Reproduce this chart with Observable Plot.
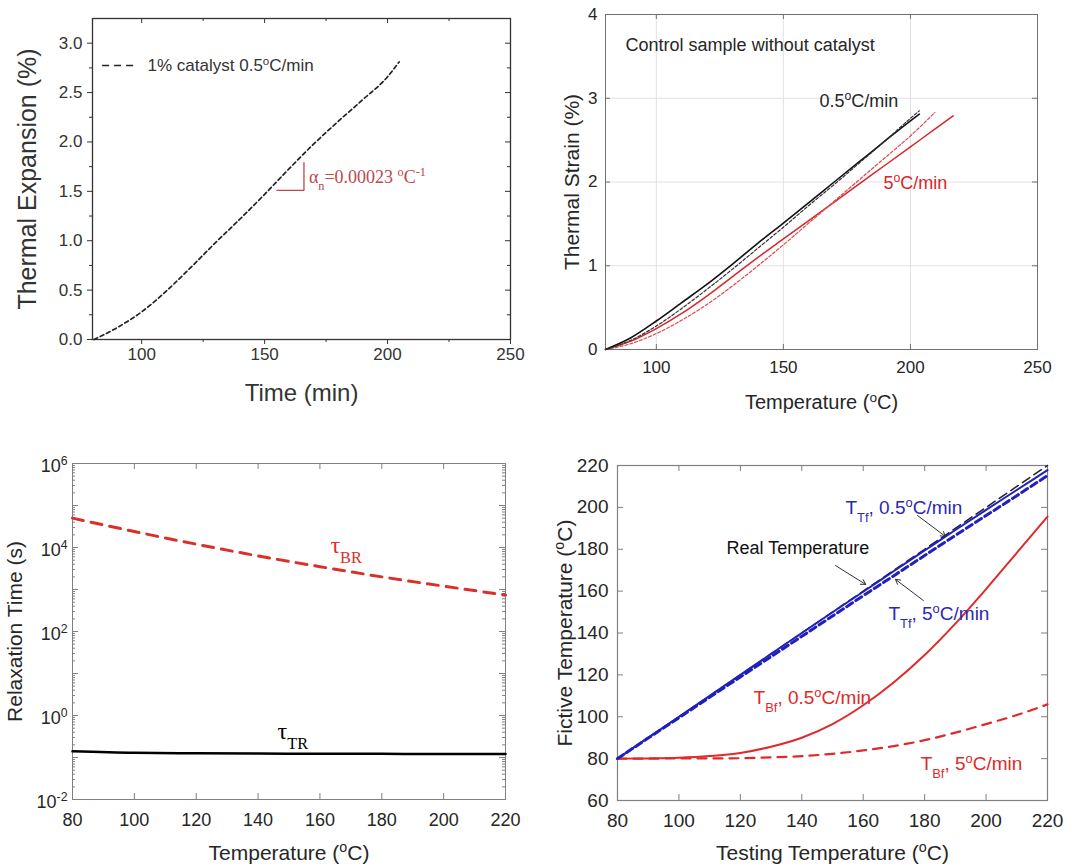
<!DOCTYPE html>
<html><head><meta charset="utf-8">
<script src="https://cdn.jsdelivr.net/npm/d3@7"></script>
<script src="https://cdn.jsdelivr.net/npm/@observablehq/plot@0.6"></script>
<style>
body{margin:0;background:#fff;}
#wrap{position:relative;width:1083px;height:866px;overflow:hidden;background:#fff;}
#wrap svg{position:absolute;}
</style></head><body><div id="wrap"></div>
<script>
// ---------- Panel A: thermal expansion, 1% catalyst ----------
const aTime      = [80.6, 90, 100, 110, 120, 130, 140, 150, 160, 170, 180, 190, 200, 204.7];
const aExpansion = [0, 0.12, 0.28, 0.49, 0.73, 0.98, 1.22, 1.47, 1.73, 1.98, 2.21, 2.43, 2.66, 2.81];
const aXTicks = [100, 150, 200, 250];
const aXMinor = [125, 175, 225];
const aYTicks = [0, 0.5, 1, 1.5, 2, 2.5, 3];
const aYMinor = [0.25, 0.75, 1.25, 1.75, 2.25, 2.75];

// ---------- Panel B: control sample thermal strain ----------
const bTempBlack  = [80, 90, 100, 110, 120, 130, 140, 150, 160, 170, 180, 190, 200, 203.5];
const bBlackSolid = [0, 0.14, 0.34, 0.56, 0.78, 1.02, 1.27, 1.51, 1.755, 2.00, 2.245, 2.49, 2.73, 2.81];
const bBlackDash  = [0, 0.11, 0.28, 0.49, 0.72, 0.96, 1.21, 1.46, 1.72, 1.97, 2.23, 2.49, 2.76, 2.85];
const bTempRedDash = [80, 90, 100, 110, 120, 130, 140, 150, 160, 170, 180, 190, 200, 209.6];
const bRedDash     = [0, 0.07, 0.19, 0.35, 0.54, 0.76, 1.00, 1.25, 1.51, 1.77, 2.03, 2.29, 2.55, 2.83];
const bTempRedSolid = [80, 90, 100, 110, 120, 130, 140, 150, 160, 170, 180, 190, 200, 210, 216.8];
const bRedSolid     = [0, 0.10, 0.25, 0.43, 0.64, 0.87, 1.10, 1.32, 1.54, 1.76, 1.98, 2.20, 2.42, 2.64, 2.79];
const bXTicks = [100, 150, 200, 250];
const bYTicks = [0, 1, 2, 3, 4];

// ---------- Panel C: relaxation times ----------
const cTemp  = [80, 100, 120, 140, 160, 180, 200, 220];
const tauBR  = [5.0e4, 2.4e4, 1.2e4, 6.3e3, 3.5e3, 2.0e3, 1.2e3, 7.4e2];
const tauTR  = [0.14, 0.129, 0.126, 0.124, 0.123, 0.122, 0.121, 0.121];
const cXTicks = [80, 100, 120, 140, 160, 180, 200, 220];
const cYLabelTicks = [1e-2, 1, 1e2, 1e4, 1e6];
const cYDecades = [1e-2, 1e-1, 1, 1e1, 1e2, 1e3, 1e4, 1e5, 1e6];

// ---------- Panel D: fictive temperatures ----------
const dTemp   = [80, 90, 100, 110, 120, 130, 140, 150, 160, 170, 180, 190, 200, 210, 220];
const realT   = [80, 90, 100, 110, 120, 130, 140, 150, 160, 170, 180, 190, 200, 210, 220];
const tTf05   = [80, 90, 100, 110, 120, 130, 140, 149.9, 159.7, 169.6, 179.4, 189.2, 198.8, 208.3, 217.8];
const tTf5    = [80, 89.8, 99.5, 109.3, 119.0, 128.7, 138.4, 148.1, 157.8, 167.4, 177.0, 186.6, 196.1, 205.6, 215.2];
const tBf05   = [80, 80.1, 80.4, 81.2, 82.7, 85.7, 90.0, 96.5, 105.5, 116.5, 129.5, 144.5, 161, 178.3, 195.6];
const tBf5    = [80, 80, 80.1, 80.1, 80.2, 80.6, 81.2, 82.3, 83.9, 86.0, 88.8, 92.4, 96.5, 100.8, 105.9];
const dXTicks = [80, 100, 120, 140, 160, 180, 200, 220];
const dYTicks = [60, 80, 100, 120, 140, 160, 180, 200, 220];

// ---------- helpers ----------
const SANS = "'Liberation Sans', Arial, Helvetica, sans-serif";
const SERIF = "'Liberation Serif', 'Times New Roman', serif";
const pts = (xs, ys) => xs.map((x, i) => ({x, y: ys[i]}));
const at = v => () => v;

function innerTicks(xs, ys, iw, ih, len, stroke, sides = "tblr") {
  const m = [];
  if (sides.includes("b")) m.push(Plot.tickX(xs, {x: d => d, insetTop: ih - len, stroke}));
  if (sides.includes("t")) m.push(Plot.tickX(xs, {x: d => d, insetBottom: ih - len, stroke}));
  if (sides.includes("l")) m.push(Plot.tickY(ys, {y: d => d, insetRight: iw - len, stroke}));
  if (sides.includes("r")) m.push(Plot.tickY(ys, {y: d => d, insetLeft: iw - len, stroke}));
  return m;
}
const yTitle = (s, dx, fontSize, fill) =>
  Plot.text([s], {frameAnchor: "left", rotate: -90, dx, text: d => d, textAnchor: "middle", lineAnchor: "middle", fontSize, fill});
const xTitle = (s, dy, fontSize, fill) =>
  Plot.text([s], {frameAnchor: "bottom", dy, text: d => d, textAnchor: "middle", lineAnchor: "middle", fontSize, fill});

// turn ^{..} and _{..} into super/subscript tspans
function rich(svg) {
  const ns = "http://www.w3.org/2000/svg";
  svg.querySelectorAll("text").forEach(t => {
    const s = t.textContent;
    if (!/[\^_]\{/.test(s)) return;
    while (t.firstChild) t.removeChild(t.firstChild);
    const re = /([\^_])\{([^}]*)\}/g;
    let last = 0, m;
    while ((m = re.exec(s))) {
      if (m.index > last) t.appendChild(document.createTextNode(s.slice(last, m.index)));
      const ts = document.createElementNS(ns, "tspan");
      ts.setAttribute("baseline-shift", m[1] === "^" ? "super" : "sub");
      ts.setAttribute("font-size", "68%");
      ts.textContent = m[2];
      t.appendChild(ts);
      last = re.lastIndex;
    }
    if (last < s.length) t.appendChild(document.createTextNode(s.slice(last)));
  });
  return svg;
}

function place(svg, left, top) {
  svg.style.left = left + "px";
  svg.style.top = top + "px";
  document.getElementById("wrap").appendChild(rich(svg));
}

// ---------- Panel A ----------
{
  const W = 540, H = 420, ml = 92, mr = 30, mt = 18, mb = 81;
  const iw = W - ml - mr, ih = H - mt - mb;
  const ink = "#333";
  const svg = Plot.plot({
    width: W, height: H, marginLeft: ml, marginRight: mr, marginTop: mt, marginBottom: mb,
    style: {fontFamily: SANS, background: "transparent", overflow: "visible"},
    x: {domain: [80, 250]}, y: {domain: [0, 3.25]},
    marks: [
      Plot.axisX(aXTicks, {tickSize: 5, tickPadding: 3, fontSize: 17, fill: ink, stroke: ink, label: null}),
      Plot.axisX(aXMinor, {tickSize: 3, tickFormat: () => "", stroke: ink, label: null}),
      Plot.axisY(aYTicks, {tickSize: 5, tickPadding: 5, fontSize: 17, fill: ink, stroke: ink, tickFormat: d3.format(".1f"), label: null}),
      Plot.axisY(aYMinor, {tickSize: 3, tickFormat: () => "", stroke: ink, label: null}),
      ...innerTicks(aXTicks, aYTicks, iw, ih, 5, ink, "tr"),
      ...innerTicks(aXMinor, aYMinor, iw, ih, 3, ink, "tr"),
      Plot.frame({stroke: ink, strokeWidth: 1.3}),
      Plot.line(pts(aTime, aExpansion), {x: "x", y: "y", stroke: "#222", strokeWidth: 1.7, strokeDasharray: "4,3", curve: "monotone-x"}),
      // slope marker
      Plot.line([{x: 155, y: 1.51}, {x: 166, y: 1.51}, {x: 166, y: 1.79}], {x: "x", y: "y", stroke: "#c0474a", strokeWidth: 1.3}),
      Plot.text(["α_{n}=0.00023 ^{o}C^{-1}"], {x: at(168), y: at(1.64), text: d => d, textAnchor: "start", fontFamily: SERIF, fontSize: 18, fill: "#c0474a"}),
      // legend
      Plot.ruleY([0], {x1: at(84.1), x2: at(98.7), y: at(2.774), stroke: "#222", strokeWidth: 1.7, strokeDasharray: "7,5"}),
      Plot.text(["1% catalyst 0.5^{o}C/min"], {x: at(102.4), y: at(2.774), text: d => d, textAnchor: "start", fontSize: 17, fill: ink}),
      yTitle("Thermal Expansion (%)", -65, 25, ink),
      xTitle("Time (min)", 54, 24, ink)
    ]
  });
  place(svg, 0, 0);
}

// ---------- Panel B ----------
{
  const W = 543, H = 420, ml = 65, mr = 46, mt = 14, mb = 71;
  const iw = W - ml - mr, ih = H - mt - mb;
  const ink = "#262626", frame = "#707070";
  const red = "#d9262b";
  const svg = Plot.plot({
    width: W, height: H, marginLeft: ml, marginRight: mr, marginTop: mt, marginBottom: mb,
    style: {fontFamily: SANS, background: "transparent", overflow: "visible"},
    x: {domain: [80, 250]}, y: {domain: [0, 4]},
    marks: [
      Plot.gridX([100, 150, 200], {stroke: "#e2e2e2", strokeOpacity: 1}),
      Plot.gridY([1, 2, 3], {stroke: "#e2e2e2", strokeOpacity: 1}),
      Plot.axisX(bXTicks, {tickSize: 0, tickPadding: 11, fontSize: 17, fill: ink, label: null, tickFormat: d3.format("d")}),
      Plot.axisY(bYTicks, {tickSize: 0, tickPadding: 8, fontSize: 17, fill: ink, label: null, tickFormat: d3.format("d")}),
      ...innerTicks(bXTicks, bYTicks, iw, ih, 5, frame),
      Plot.frame({stroke: frame, strokeWidth: 1}),
      Plot.line(pts(bTempRedSolid, bRedSolid), {x: "x", y: "y", stroke: red, strokeWidth: 1.5, curve: "monotone-x"}),
      Plot.line(pts(bTempRedDash, bRedDash), {x: "x", y: "y", stroke: "#e0484c", strokeWidth: 1.2, strokeDasharray: "3,2", curve: "monotone-x"}),
      Plot.line(pts(bTempBlack, bBlackSolid), {x: "x", y: "y", stroke: "#111", strokeWidth: 1.6, curve: "monotone-x"}),
      Plot.line(pts(bTempBlack, bBlackDash), {x: "x", y: "y", stroke: "#333", strokeWidth: 1.2, strokeDasharray: "3,2", curve: "monotone-x"}),
      Plot.text(["Control sample without catalyst"], {x: at(87.9), y: at(3.63), text: d => d, textAnchor: "start", fontSize: 18, fill: ink}),
      Plot.text(["0.5^{o}C/min"], {x: at(164.2), y: at(2.97), text: d => d, textAnchor: "start", fontSize: 18, fill: ink}),
      Plot.text(["5^{o}C/min"], {x: at(189.4), y: at(1.99), text: d => d, textAnchor: "start", fontSize: 18, fill: red}),
      yTitle("Thermal Strain (%)", -33, 21, ink),
      xTitle("Temperature (^{o}C)", 53, 20, ink)
    ]
  });
  place(svg, 540, 0);
}

// ---------- Panel C ----------
{
  const W = 540, H = 436, ml = 72, mr = 35, mt = 33, mb = 67;
  const iw = W - ml - mr, ih = H - mt - mb;
  const ink = "#262626", frame = "#808080";
  const minor = d3.range(-2, 6).flatMap(k => d3.range(2, 10).map(m => m * 10 ** k));
  const svg = Plot.plot({
    width: W, height: H, marginLeft: ml, marginRight: mr, marginTop: mt, marginBottom: mb,
    style: {fontFamily: SANS, background: "transparent", overflow: "visible"},
    x: {domain: [80, 220]}, y: {type: "log", domain: [1e-2, 1e6]},
    marks: [
      Plot.axisX(cXTicks, {tickSize: 0, tickPadding: 14, fontSize: 18, fill: ink, label: null}),
      Plot.axisY(cYLabelTicks, {tickSize: 0, tickPadding: 5, dy: 3, fontSize: 18, fill: ink, label: null,
        tickFormat: d => `10^{${Math.round(Math.log10(d))}}`}),
      ...innerTicks(cXTicks, cYDecades, iw, ih, 6, frame),
      ...innerTicks([], minor, iw, ih, 3, frame, "lr"),
      Plot.frame({stroke: frame, strokeWidth: 1}),
      Plot.line(pts(cTemp, tauBR), {x: "x", y: "y", stroke: "#d9302c", strokeWidth: 3, strokeDasharray: "11,8", curve: "monotone-x"}),
      Plot.line(pts(cTemp, tauTR), {x: "x", y: "y", stroke: "#000", strokeWidth: 2.5, curve: "monotone-x"}),
      Plot.text(["τ_{BR}"], {x: at(163.4), y: at(1.1e4), text: d => d, textAnchor: "start", fontFamily: SERIF, fontSize: 24, fill: "#d9302c"}),
      Plot.text(["τ_{TR}"], {x: at(146.3), y: at(0.42), text: d => d, textAnchor: "start", fontFamily: SERIF, fontSize: 24, fill: "#000"}),
      yTitle("Relaxation Time (s)", -57, 21, ink),
      xTitle("Temperature (^{o}C)", 54, 21, ink)
    ]
  });
  place(svg, 0, 430);
}

// ---------- Panel D ----------
{
  const W = 543, H = 436, ml = 77, mr = 36, mt = 35, mb = 66;
  const iw = W - ml - mr, ih = H - mt - mb;
  const ink = "#262626", frame = "#808080";
  const red = "#e02a2a", blue = "#2020c0";
  const svg = Plot.plot({
    width: W, height: H, marginLeft: ml, marginRight: mr, marginTop: mt, marginBottom: mb,
    style: {fontFamily: SANS, background: "transparent", overflow: "visible"},
    x: {domain: [80, 220]}, y: {domain: [60, 220]},
    marks: [
      Plot.axisX(dXTicks, {tickSize: 0, tickPadding: 13, fontSize: 19, fill: ink, label: null}),
      Plot.axisY(dYTicks, {tickSize: 0, tickPadding: 9, fontSize: 19, fill: ink, label: null}),
      ...innerTicks(dXTicks, dYTicks, iw, ih, 6, frame),
      Plot.frame({stroke: frame, strokeWidth: 1.2}),
      Plot.line(pts(dTemp, tBf5), {x: "x", y: "y", stroke: red, strokeWidth: 2.2, strokeDasharray: "9,7", curve: "monotone-x"}),
      Plot.line(pts(dTemp, tBf05), {x: "x", y: "y", stroke: red, strokeWidth: 2, curve: "monotone-x"}),
      Plot.line(pts(dTemp, tTf5), {x: "x", y: "y", stroke: blue, strokeWidth: 3, strokeDasharray: "7,4", curve: "monotone-x"}),
      Plot.line(pts(dTemp, realT), {x: "x", y: "y", stroke: "#222", strokeWidth: 1.5, strokeDasharray: "9,5"}),
      Plot.line(pts(dTemp, tTf05), {x: "x", y: "y", stroke: blue, strokeWidth: 2, curve: "monotone-x"}),
      // annotations
      Plot.text(["T_{Tf}, 0.5^{o}C/min"], {x: at(154.2), y: at(199.9), text: d => d, textAnchor: "start", fontSize: 19, fill: "#2a2ab0"}),
      Plot.text(["Real Temperature"], {x: at(115.5), y: at(180.4), text: d => d, textAnchor: "start", fontSize: 18, fill: "#111"}),
      Plot.text(["T_{Tf}, 5^{o}C/min"], {x: at(168.2), y: at(149.3), text: d => d, textAnchor: "start", fontSize: 19, fill: "#2a2ab0"}),
      Plot.text(["T_{Bf}, 0.5^{o}C/min"], {x: at(124.3), y: at(109.2), text: d => d, textAnchor: "start", fontSize: 19, fill: red}),
      Plot.text(["T_{Bf}, 5^{o}C/min"], {x: at(178.7), y: at(77.7), text: d => d, textAnchor: "start", fontSize: 19, fill: red}),
      Plot.arrow([0], {x1: at(177.7), y1: at(196.1), x2: at(186.8), y2: at(186.1), stroke: "#333", strokeWidth: 1, headLength: 8}),
      Plot.arrow([0], {x1: at(151.0), y1: at(172.2), x2: at(160.8), y2: at(163.2), stroke: "#333", strokeWidth: 1, headLength: 8}),
      Plot.arrow([0], {x1: at(179.6), y1: at(155.5), x2: at(170.5), y2: at(165.6), stroke: "#333", strokeWidth: 1, headLength: 8}),
      yTitle("Fictive Temperature (^{o}C)", -52, 21, ink),
      xTitle("Testing Temperature (^{o}C)", 53, 21, ink)
    ]
  });
  place(svg, 540, 430);
}
</script></body></html>
